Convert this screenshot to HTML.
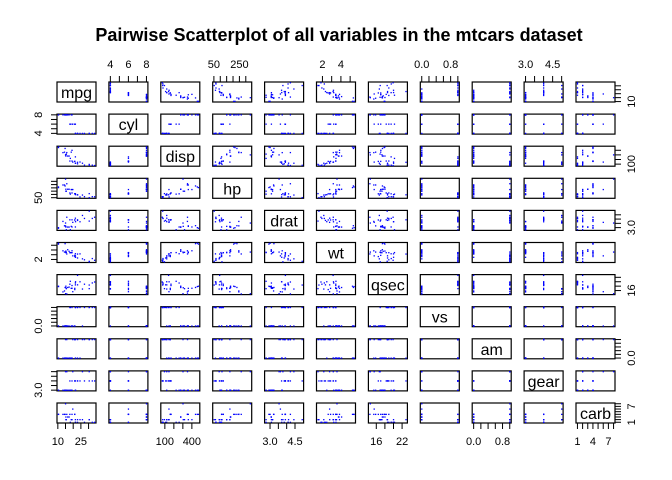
<!DOCTYPE html>
<html><head><meta charset="utf-8">
<style>
html,body{margin:0;padding:0;background:#fff;}
svg{display:block;font-family:"Liberation Sans",Arial,sans-serif;}
</style></head>
<body>
<svg id="chart" width="672" height="480" viewBox="0 0 672 480">
<text x="339" y="41" text-anchor="middle" font-size="18" font-weight="bold">Pairwise Scatterplot of all variables in the mtcars dataset</text>
<g id="panels"></g>
</svg>
<script>
const varNames = ["mpg","cyl","disp","hp","drat","wt","qsec","vs","am","gear","carb"];
const mpg  = [21,21,22.8,21.4,18.7,18.1,14.3,24.4,22.8,19.2,17.8,16.4,17.3,15.2,10.4,10.4,14.7,32.4,30.4,33.9,21.5,15.5,15.2,13.3,19.2,27.3,26,30.4,15.8,19.7,15,21.4];
const cyl  = [6,6,4,6,8,6,8,4,4,6,6,8,8,8,8,8,8,4,4,4,4,8,8,8,8,4,4,4,8,6,8,4];
const disp = [160,160,108,258,360,225,360,146.7,140.8,167.6,167.6,275.8,275.8,275.8,472,460,440,78.7,75.7,71.1,120.1,318,304,350,400,79,120.3,95.1,351,145,301,121];
const hp   = [110,110,93,110,175,105,245,62,95,123,123,180,180,180,205,215,230,66,52,65,97,150,150,245,175,66,91,113,264,175,335,109];
const drat = [3.9,3.9,3.85,3.08,3.15,2.76,3.21,3.69,3.92,3.92,3.92,3.07,3.07,3.07,2.93,3,3.23,4.08,4.93,4.22,3.7,2.76,3.15,3.73,3.08,4.08,4.43,3.77,4.22,3.62,3.54,4.11];
const wt   = [2.62,2.875,2.32,3.215,3.44,3.46,3.57,3.19,3.15,3.44,3.44,4.07,3.73,3.78,5.25,5.424,5.345,2.2,1.615,1.835,2.465,3.52,3.435,3.84,3.845,1.935,2.14,1.513,3.17,2.77,3.57,2.78];
const qsec = [16.46,17.02,18.61,19.44,17.02,20.22,15.84,20,22.9,18.3,18.9,17.4,17.6,18,17.98,17.82,17.42,19.47,18.52,19.9,20.01,16.87,17.3,15.41,17.05,18.9,16.7,16.9,14.5,15.5,14.6,18.6];
const vs   = [0,0,1,1,0,1,0,1,1,1,1,0,0,0,0,0,0,1,1,1,1,0,0,0,0,1,0,1,0,0,0,1];
const am   = [1,1,1,0,0,0,0,0,0,0,0,0,0,0,0,0,0,1,1,1,0,0,0,0,0,1,1,1,1,1,1,1];
const gear = [4,4,4,3,3,3,3,4,4,4,4,3,3,3,3,3,3,4,4,4,3,3,3,3,3,4,5,5,5,5,5,4];
const carb = [4,4,1,1,2,1,4,2,2,4,4,3,3,3,4,4,4,1,2,1,1,2,2,4,2,1,2,2,4,6,8,2];
const columns = [mpg,cyl,disp,hp,drat,wt,qsec,vs,am,gear,carb];
const tickValues = [[10,15,20,25,30],[4,5,6,7,8],[100,200,300,400],[50,100,150,200,250,300],[3,3.5,4,4.5],[2,3,4,5],[16,18,20,22],[0,0.2,0.4,0.6,0.8,1],[0,0.2,0.4,0.6,0.8,1],[3,3.5,4,4.5,5],[1,2,3,4,5,6,7,8]];
const hTickLabels = [["10","25"],["4","6","8"],["100","400"],["50","250"],["3.0","4.5"],["2","4"],["16","22"],["0.0","0.8"],["0.0","0.8"],["3.0","4.5"],["1","4","7"]];
const vTickLabels = [["10"],["4","8"],["100"],["50"],["3.0"],["2"],["16"],["0.0"],["0.0"],["3.0"],["1","7"]];

const NS="http://www.w3.org/2000/svg";
const g=document.getElementById("panels");
const L0=57, PX=51.9, W=39, T0=82, PY=32.1, H=20, TICK=6;
function mk(tag,attrs){const e=document.createElementNS(NS,tag);for(const k in attrs)e.setAttribute(k,attrs[k]);return e;}
function rng(a){let mn=Math.min(...a),mx=Math.max(...a);const p=(mx-mn)*0.04;return [mn-p,mx+p];}
function xScale(c,v){const [a,b]=rng(columns[c]);return L0+c*PX+(v-a)/(b-a)*W;}
function yScale(r,v){const [a,b]=rng(columns[r]);return T0+r*PY+H-(v-a)/(b-a)*H;}
const n=varNames.length;
for(let r=0;r<n;r++){
  for(let c=0;c<n;c++){
    const x0=L0+c*PX, y0=T0+r*PY;
    const box=mk("rect",{x:x0,y:y0,width:W,height:H,fill:"none",stroke:"#000","stroke-width":1.2});
    
    
    g.appendChild(box);
    if(r===c){
      const t=mk("text",{x:x0+W/2,y:y0+H/2+6,"text-anchor":"middle","font-size":16});
      t.textContent=varNames[r];
      
      
      g.appendChild(t);
    } else {
      for(let i=0;i<columns[0].length;i++){
        const p=mk("rect",{x:xScale(c,columns[c][i])-0.6,y:yScale(r,columns[r][i])-0.6,width:1.3,height:1.3,fill:"#0000ff"});
        
        
        g.appendChild(p);
      }
    }
  }
}
for(let c=0;c<n;c++){
  const top=(c%2===1);
  const yb= top? T0 : T0+(n-1)*PY+H;
  const dir= top? -1:1;
  const ticks=tickValues[c];
  const ax=mk("path",{d:"M"+xScale(c,ticks[0])+","+yb+"H"+xScale(c,ticks[ticks.length-1]),stroke:"#000","stroke-width":1,fill:"none"});
  
  
  g.appendChild(ax);
  ticks.forEach(v=>{
    const x=xScale(c,v);
    const tk=mk("line",{x1:x,x2:x,y1:yb,y2:yb+dir*TICK,stroke:"#000","stroke-width":1});
    
    
    g.appendChild(tk);
  });
  hTickLabels[c].forEach(s=>{
    const v=parseFloat(s);
    const t=mk("text",{x:xScale(c,v),y: top? yb-14 : yb+22,"text-anchor":"middle","font-size":11});
    t.textContent=s;
    
    
    g.appendChild(t);
  });
}
for(let r=0;r<n;r++){
  const left=(r%2===1);
  const xb= left? L0 : L0+(n-1)*PX+W;
  const dir= left? -1:1;
  const ticks=tickValues[r];
  const ax=mk("path",{d:"M"+xb+","+yScale(r,ticks[0])+"V"+yScale(r,ticks[ticks.length-1]),stroke:"#000","stroke-width":1,fill:"none"});
  
  
  g.appendChild(ax);
  ticks.forEach(v=>{
    const y=yScale(r,v);
    const tk=mk("line",{x1:xb,x2:xb+dir*TICK,y1:y,y2:y,stroke:"#000","stroke-width":1});
    
    
    g.appendChild(tk);
  });
  vTickLabels[r].forEach(s=>{
    const v=parseFloat(s);
    const y=yScale(r,v);
    const x= left? xb-15 : xb+20;
    const t=mk("text",{x:x,y:y,"text-anchor":"middle","font-size":11,transform:"rotate(-90 "+x+" "+y+")"});
    t.textContent=s;
    
    
    g.appendChild(t);
  });
}
</script>
</body></html>
